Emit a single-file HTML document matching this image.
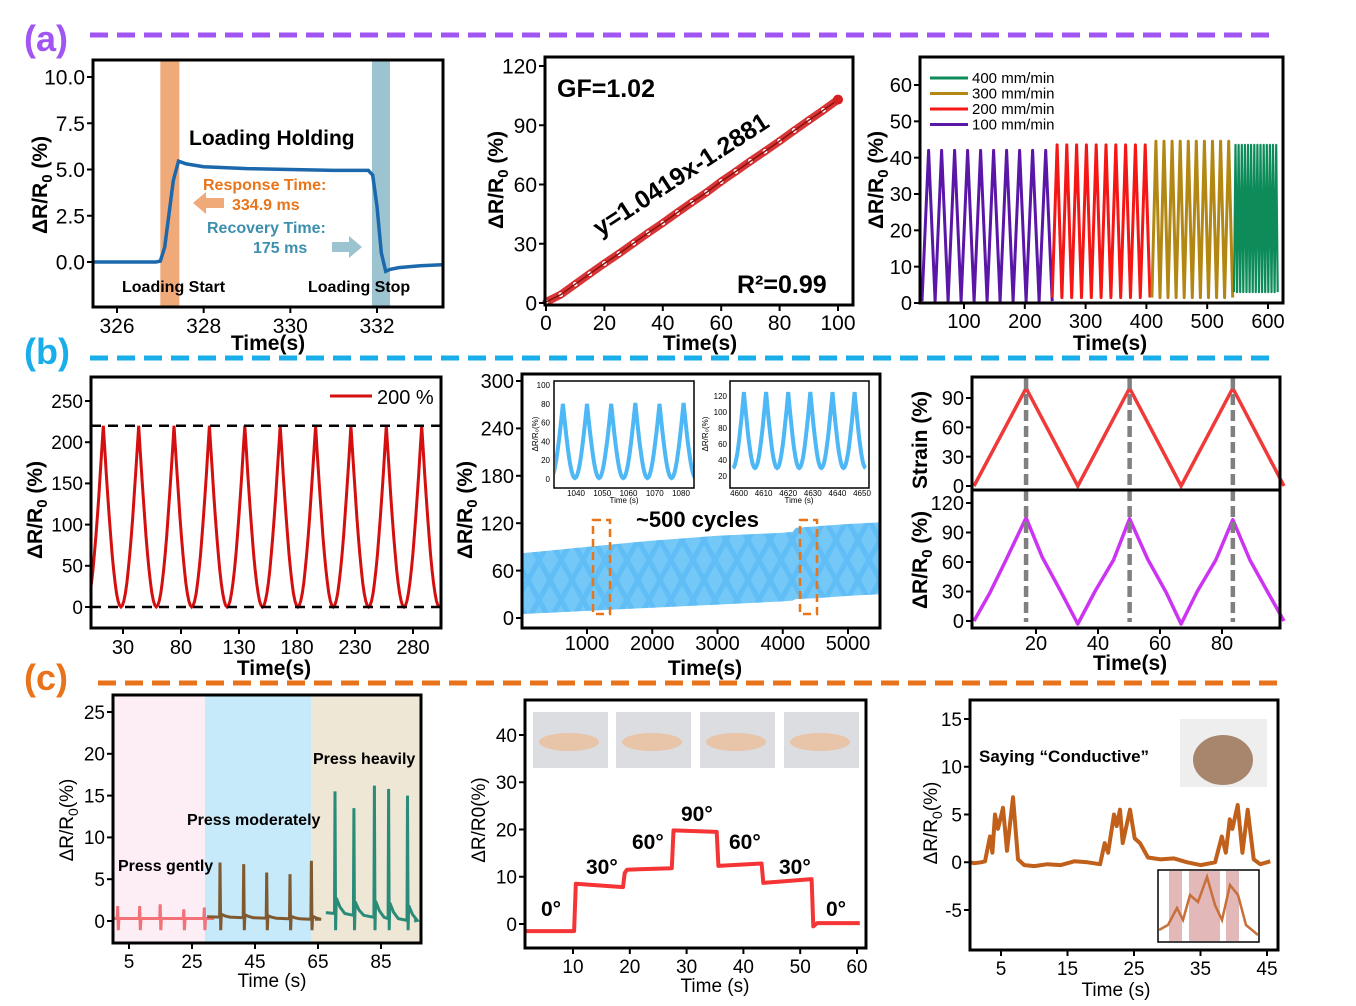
<!DOCTYPE html>
<html><head><meta charset="utf-8"><title>Sensor figure</title>
<style>
html,body{margin:0;padding:0;background:#fff;}
svg{display:block;font-family:"Liberation Sans",Arial,sans-serif;}
</style></head>
<body>
<svg id="fig" width="1356" height="1006" viewBox="0 0 1356 1006" xmlns="http://www.w3.org/2000/svg"></svg>
<script>
// ---------- data ----------
const a1Time=[325.45,326.9,327.0,327.1,327.2,327.3,327.42,327.6,328,329,330,331,331.8,331.9,332.0,332.1,332.2,332.3,332.5,333,333.5];
const a1Val=[0,0,0.05,0.8,2.6,4.4,5.45,5.3,5.15,5.05,5.0,4.95,4.95,4.7,3.0,0.5,-0.5,-0.4,-0.3,-0.2,-0.15];
const a2Time=[0,5,10,15,20,25,30,35,40,45,50,55,60,65,70,75,80,85,90,95,100];
const a2Val=[0.5,4.2,9.5,14.8,20,25,30.3,35.5,40.5,45.8,51,56,61.5,66.6,71.8,76.8,82,87.3,92.5,97.6,103];
const a3Start=[31,245,409,544];
const a3End=[245,406,542,616];
const a3Cycles=[10,10,10,14];
const a3Peak=[42,43.5,44.5,43.5];
const a3Min=[0.5,1.5,1.5,3];
const b1PeakTimes=[13,43.5,74,104.5,135,165.5,196,226.5,257,287.5];
const b1PeakVals=[220,220,220,220,220,220,220,220,220,220];
const b2Time=[0,500,1000,1500,2000,2500,3000,3500,4000,4150,4200,4500,5000,5490];
const b2Upper=[82,86,90,94,98,101,104,106,108,109,114,116,119,121];
const b2Lower=[5,7,9,11,13,15,17,19,21,22,24,25,28,30];
const b2In1Peak=[80,80,80,81,80,81];
const b2In2Peak=[125,125,125,125,125,125];
const b3StrainT=[0,16.8,33.5,50.2,66.8,83.5,100];
const b3StrainV=[0,100,0,100,0,100,0];
const b3RespT=[0,5,10,16.8,22,28,33.5,39,45,50.2,56,62,66.8,72,78,83.5,89,95,100];
const b3RespV=[0,28,60,105,65,30,-3,30,62,104,63,29,-3,30,62,103,62,28,0];
const c1GentleT=[1.5,8.5,15,22.5,29];
const c1GentleV=[1.8,1.8,2.0,1.4,1.6];
const c1ModT=[34,41.5,48.8,56.2,63];
const c1ModV=[7.0,6.8,5.8,5.6,7.2];
const c1HeavyT=[70.5,76.5,83,87.5,93.5];
const c1HeavyV=[15.5,13.5,16.2,15.8,15.0];
const c2Time=[1.5,10.2,10.5,18.8,19.1,19.5,27.4,27.7,35.3,35.6,43.2,43.5,52.0,52.3,53,60.5];
const c2Val=[-1.5,-1.5,8.5,7.8,10.8,11.5,11.8,19.8,19.5,12.3,12.8,8.7,9.5,-0.5,0.2,0.2];
const c3Time=[0.3,1,2,2.6,3.35,3.7,4.1,4.55,5.3,5.9,6.8,7.55,8.5,10,12,14,16,18,19.9,20.6,21.1,22.0,22.4,22.9,23.3,24.4,25.1,25.9,27.1,29,31,33,35,37.2,38.2,38.8,39.4,39.8,40.6,41.3,42.1,43,44,45.5];
const c3Val=[0,-0.1,0,0.1,2.7,1.0,5.0,3.5,5.7,1.2,6.8,0.3,-0.3,-0.4,-0.2,-0.3,0.1,0.0,-0.2,2.0,1.0,5.0,3.8,5.5,2.0,5.5,2.5,2.0,0.5,0.3,0.4,0.0,-0.3,0.0,2.7,1.0,4.5,3.5,6.0,1.0,5.5,0.3,-0.2,0.1];

// ---------- helpers ----------
const NS='http://www.w3.org/2000/svg';
const svg=document.getElementById('fig');
function mk(tag,attrs,name,parent){
  const e=document.createElementNS(NS,tag);
  for(const k in attrs) e.setAttribute(k,attrs[k]);
  
  
  (parent||svg).appendChild(e);
  return e;
}
function txt(x,y,s,attrs,name,parent){
  const t=mk('text',Object.assign({x:x,y:y},attrs||{}),name,parent);
  t.textContent=s; return t;
}
function lin(d0,d1,p0,p1){return v=>p0+(v-d0)*(p1-p0)/(d1-d0);}
function pathD(xs,ys,sx,sy){let d='';for(let i=0;i<xs.length;i++){d+=(i?'L':'M')+sx(xs[i]).toFixed(1)+','+sy(ys[i]).toFixed(1);}return d;}
function box(x0,y0,x1,y1,name,sw){mk('rect',{x:x0,y:y0,width:x1-x0,height:y1-y0,fill:'none',stroke:'#000','stroke-width':sw||3},name);}
function yTicks(vals,labels,sy,x0,fs,name){vals.forEach((v,i)=>{mk('line',{x1:x0-6,x2:x0,y1:sy(v),y2:sy(v),stroke:'#000','stroke-width':2},name+'-tick');txt(x0-8,sy(v)+fs*0.36,labels[i],{'font-size':fs,'text-anchor':'end'},name+'-label');});}
function xTicks(vals,labels,sx,y1,fs,name,dy){vals.forEach((v,i)=>{mk('line',{x1:sx(v),x2:sx(v),y1:y1,y2:y1+6,stroke:'#000','stroke-width':2},name+'-tick');txt(sx(v),y1+(dy||25),labels[i],{'font-size':fs,'text-anchor':'middle'},name+'-label');});}
function yTitle(x,y,parts,fs,name,bold){const t=mk('text',{x:0,y:0,transform:`translate(${x},${y}) rotate(-90)`,'text-anchor':'middle','font-size':fs,'font-weight':bold?'bold':'normal'},name);t.innerHTML=parts;}
function smoothWave(peakT,peakV,t0,t1,minV){
  const T=[],V=[];const n=peakT.length;
  for(let i=0;i<n;i++){
    const prev=i?peakT[i-1]:peakT[0]-(peakT[1]-peakT[0]);
    const half=(peakT[i]-prev)/2;
    for(let k=0;k<=12;k++){const u=k/12;T.push(prev+half+u*half);V.push(minV+(peakV[i]-minV)*(1-Math.cos(Math.PI/2*u)));}
    for(let k=1;k<=12;k++){const u=k/12;T.push(peakT[i]+u*half);V.push(minV+(peakV[i]-minV)*(1-Math.sin(Math.PI/2*u)));}
  }
  return [T,V];
}
function triWave(t0,t1,n,peak,minv){const T=[t0],V=[minv];const p=(t1-t0)/n;for(let i=0;i<n;i++){T.push(t0+p*(i+0.5));V.push(peak);T.push(t0+p*(i+1));V.push(minv);}return [T,V];}
function dashSep(y,color,x0,x1,name){mk('line',{x1:x0,x2:x1,y1:y,y2:y,stroke:color,'stroke-width':5,'stroke-dasharray':'18 9'},name);}

// ---------- section headers ----------
txt(24,51,'(a)',{'font-size':36,'font-weight':'bold',fill:'#a155f2'},'label-a');
dashSep(35,'#a155f2',90,1278,'separator-a');
txt(24,364,'(b)',{'font-size':36,'font-weight':'bold',fill:'#19aee9'},'label-b');
dashSep(358,'#19aee9',90,1278,'separator-b');
txt(24,690,'(c)',{'font-size':36,'font-weight':'bold',fill:'#e8731a'},'label-c');
dashSep(683,'#e8731a',98,1285,'separator-c');

// ---------- a1 ----------
(function(){
  const sx=lin(326,332,117,377), sy=lin(0,10,262,77);
  mk('rect',{x:sx(327.0),y:60,width:19,height:247,fill:'#f0aa7a'},'response-band');
  mk('rect',{x:372,y:60,width:18,height:247,fill:'#9cc4d0'},'recovery-band');
  mk('path',{d:pathD(a1Time,a1Val,sx,sy),fill:'none',stroke:'#1c68ad','stroke-width':3.5},'response-curve');
  box(93,60,443,307,'plot-frame-a1');
  yTicks([0,2.5,5,7.5,10],['0.0','2.5','5.0','7.5','10.0'],sy,93,21,'a1-y');
  xTicks([326,328,330,332],['326','328','330','332'],sx,307,21,'a1-x',26);
  txt(268,350,'Time(s)',{'font-size':21,'font-weight':'bold','text-anchor':'middle'},'x-axis-title-a1');
  yTitle(47,185,'ΔR/R<tspan font-size="15" dy="5">0</tspan><tspan dy="-5"> (%)</tspan>',21,'y-axis-title-a1',true);
  txt(189,145,'Loading Holding',{'font-size':21,'font-weight':'bold'},'loading-holding-label');
  txt(203,190,'Response Time:',{'font-size':16,'font-weight':'bold',fill:'#e8751a'},'response-time-label');
  txt(232,210,'334.9 ms',{'font-size':16,'font-weight':'bold',fill:'#e8751a'},'response-time-value');
  mk('polygon',{points:'193,203 206,192 206,198 224,198 224,208 206,208 206,214',fill:'#f0aa7a'},'response-arrow');
  txt(207,233,'Recovery Time:',{'font-size':16,'font-weight':'bold',fill:'#3d8fae'},'recovery-time-label');
  txt(253,253,'175 ms',{'font-size':16,'font-weight':'bold',fill:'#3d8fae'},'recovery-time-value');
  mk('polygon',{points:'362,247 349,236 349,242 332,242 332,252 349,252 349,258',fill:'#9cc4d0'},'recovery-arrow');
  txt(122,292,'Loading Start',{'font-size':16,'font-weight':'bold'},'loading-start-label');
  txt(308,292,'Loading Stop',{'font-size':16,'font-weight':'bold'},'loading-stop-label');
})();

// ---------- a2 ----------
(function(){
  const sx=lin(0,100,546,838), sy=lin(0,120,303,66);
  mk('path',{d:pathD(a2Time,a2Val,sx,sy),fill:'none',stroke:'#d42020','stroke-width':8,opacity:0.9},'gf-data-band');
  a2Time.forEach((t,i)=>{mk('circle',{cx:sx(t),cy:sy(a2Val[i]),r:3,fill:'#fff',stroke:'#d42020','stroke-width':1.2},'gf-point');});
  mk('path',{d:pathD(a2Time,a2Val,sx,sy),fill:'none',stroke:'#8a1010','stroke-width':1.5},'gf-fit-line');
  mk('circle',{cx:sx(100),cy:sy(a2Val[a2Val.length-1]),r:5,fill:'#d42020'},'gf-end-point');
  box(545,57,853,305,'plot-frame-a2');
  yTicks([0,30,60,90,120],['0','30','60','90','120'],sy,545,21,'a2-y');
  xTicks([0,20,40,60,80,100],['0','20','40','60','80','100'],sx,305,21,'a2-x',25);
  txt(700,350,'Time(s)',{'font-size':21,'font-weight':'bold','text-anchor':'middle'},'x-axis-title-a2');
  yTitle(503,180,'ΔR/R<tspan font-size="15" dy="5">0</tspan><tspan dy="-5"> (%)</tspan>',21,'y-axis-title-a2',true);
  txt(557,97,'GF=1.02',{'font-size':25,'font-weight':'bold'},'gf-label');
  txt(0,0,'y=1.0419x-1.2881',{'font-size':25,'font-weight':'bold',transform:'translate(600,237) rotate(-33)'},'fit-equation');
  txt(737,293,'R²=0.99',{'font-size':25,'font-weight':'bold'},'r-squared-label');
})();

// ---------- a3 ----------
(function(){
  const sx=lin(100,600,964,1268), sy=lin(0,60,303,85);
  const cols=['#5a16a6','#f51616','#b38714','#0d8c5a'];
  for(let s=0;s<4;s++){const w=triWave(a3Start[s],a3End[s],a3Cycles[s],a3Peak[s],a3Min[s]);mk('path',{d:pathD(w[0],w[1],sx,sy),fill:'none',stroke:cols[s],'stroke-width':s==3?2.2:3,'stroke-linejoin':'round'},'speed-series-'+s);}
  box(920,57,1283,303,'plot-frame-a3');
  yTicks([0,10,20,30,40,50,60],['0','10','20','30','40','50','60'],sy,920,20,'a3-y');
  xTicks([100,200,300,400,500,600],['100','200','300','400','500','600'],sx,303,20,'a3-x',25);
  txt(1110,350,'Time(s)',{'font-size':21,'font-weight':'bold','text-anchor':'middle'},'x-axis-title-a3');
  yTitle(883,180,'ΔR/R<tspan font-size="15" dy="5">0</tspan><tspan dy="-5"> (%)</tspan>',21,'y-axis-title-a3',true);
  const labs=['400 mm/min','300 mm/min','200 mm/min','100 mm/min'];const lc=[cols[3],cols[2],cols[1],cols[0]];
  labs.forEach((l,i)=>{const y=78+i*15.5;mk('line',{x1:930,x2:968,y1:y,y2:y,stroke:lc[i],'stroke-width':3},'legend-line');txt(972,y+5,l,{'font-size':15},'legend-entry');});
})();

// ---------- b1 ----------
(function(){
  const sx=lin(30,280,123,413), sy=lin(0,250,607,401);
  const cp=mk('clipPath',{id:'b1clip'},'b1-clip');mk('rect',{x:91,y:377,width:350,height:251},'b1-clip-rect',cp);
  const w=smoothWave(b1PeakTimes,b1PeakVals,0,0,0);
  mk('path',{d:pathD(w[0],w[1],sx,sy),fill:'none',stroke:'#d40f0f','stroke-width':3,'clip-path':'url(#b1clip)'},'strain-200-curve');
  mk('line',{x1:91,x2:441,y1:sy(220),y2:sy(220),stroke:'#000','stroke-width':2.5,'stroke-dasharray':'10 7'},'peak-reference-line');
  mk('line',{x1:91,x2:441,y1:sy(0),y2:sy(0),stroke:'#000','stroke-width':2.5,'stroke-dasharray':'10 7'},'zero-reference-line');
  box(91,377,441,628,'plot-frame-b1');
  yTicks([0,50,100,150,200,250],['0','50','100','150','200','250'],sy,91,19,'b1-y');
  xTicks([30,80,130,180,230,280],['30','80','130','180','230','280'],sx,628,20,'b1-x',26);
  txt(274,675,'Time(s)',{'font-size':21,'font-weight':'bold','text-anchor':'middle'},'x-axis-title-b1');
  yTitle(42,510,'ΔR/R<tspan font-size="15" dy="5">0</tspan><tspan dy="-5"> (%)</tspan>',21,'y-axis-title-b1',true);
  mk('line',{x1:330,x2:372,y1:396,y2:396,stroke:'#d40f0f','stroke-width':3},'legend-line-200');
  txt(377,404,'200 %',{'font-size':20},'legend-entry-200');
})();

// ---------- b2 ----------
(function(){
  const sx=lin(1000,5000,587,848), sy=lin(0,300,618,381);
  let d=pathD(b2Time,b2Upper,sx,sy);for(let i=b2Time.length-1;i>=0;i--)d+='L'+sx(b2Time[i]).toFixed(1)+','+sy(b2Lower[i]).toFixed(1);d+='Z';
  mk('path',{d:d,fill:'#74c8f8'},'cycling-band');
  const pat=mk('pattern',{id:'diam',width:22,height:40,patternUnits:'userSpaceOnUse',y:580},'diamond-pattern');
  mk('path',{d:'M0,0L11,20L0,40M22,0L11,20L22,40',stroke:'#4fb4f2','stroke-width':5,fill:'none'},'diamond-stroke',pat);
  mk('path',{d:d,fill:'url(#diam)',opacity:0.55},'cycling-band-texture');
  mk('rect',{x:593,y:520,width:17,height:94,fill:'none',stroke:'#e8751a','stroke-width':2.5,'stroke-dasharray':'8 5'},'zoom-box-early');
  mk('rect',{x:800,y:520,width:17,height:94,fill:'none',stroke:'#e8751a','stroke-width':2.5,'stroke-dasharray':'8 5'},'zoom-box-late');
  txt(636,527,'~500 cycles',{'font-size':22,'font-weight':'bold'},'cycles-label');
  const ix=lin(1040,1080,576,681), iy=lin(0,100,479,385);
  const pt1=b2In1Peak.map((_,i)=>1035+i*9.2);
  let w=smoothWave(pt1,b2In1Peak,0,0,1);
  const c1=mk('clipPath',{id:'in1'},'inset1-clip');mk('rect',{x:555,y:381,width:139,height:106},'inset1-clip-rect',c1);
  mk('path',{d:pathD(w[0],w[1],ix,iy),fill:'none',stroke:'#4db8f5','stroke-width':4,'clip-path':'url(#in1)'},'inset1-curve');
  box(554,381,694,488,'inset1-frame',1.5);
  [0,20,40,60,80,100].forEach(v=>{txt(550,iy(v)+3,String(v),{'font-size':8,'text-anchor':'end'},'inset1-y-label');});
  [1040,1050,1060,1070,1080].forEach(v=>{txt(ix(v),496,String(v),{'font-size':8,'text-anchor':'middle'},'inset1-x-label');});
  txt(624,503,'Time (s)',{'font-size':8,'text-anchor':'middle'},'inset1-x-title');
  txt(0,0,'ΔR/R₀(%)',{'font-size':8,'text-anchor':'middle',transform:'translate(538,434) rotate(-90)'},'inset1-y-title');
  const jx=lin(4600,4650,739,862), jy=lin(20,120,476,396);
  const pt2=b2In2Peak.map((_,i)=>4602+i*9);
  w=smoothWave(pt2,b2In2Peak,0,0,30);
  const c2=mk('clipPath',{id:'in2'},'inset2-clip');mk('rect',{x:730,y:381,width:139,height:106},'inset2-clip-rect',c2);
  mk('path',{d:pathD(w[0],w[1],jx,jy),fill:'none',stroke:'#4db8f5','stroke-width':4,'clip-path':'url(#in2)'},'inset2-curve');
  box(730,381,869,488,'inset2-frame',1.5);
  [20,40,60,80,100,120].forEach(v=>{txt(727,jy(v)+3,String(v),{'font-size':8,'text-anchor':'end'},'inset2-y-label');});
  [4600,4610,4620,4630,4640,4650].forEach(v=>{txt(jx(v),496,String(v),{'font-size':8,'text-anchor':'middle'},'inset2-x-label');});
  txt(799,503,'Time (s)',{'font-size':8,'text-anchor':'middle'},'inset2-x-title');
  txt(0,0,'ΔR/R₀(%)',{'font-size':8,'text-anchor':'middle',transform:'translate(708,434) rotate(-90)'},'inset2-y-title');
  box(522,374,880,628,'plot-frame-b2');
  yTicks([0,60,120,180,240,300],['0','60','120','180','240','300'],sy,522,20,'b2-y');
  xTicks([1000,2000,3000,4000,5000],['1000','2000','3000','4000','5000'],sx,628,20,'b2-x',22);
  txt(705,675,'Time(s)',{'font-size':21,'font-weight':'bold','text-anchor':'middle'},'x-axis-title-b2');
  yTitle(472,510,'ΔR/R<tspan font-size="15" dy="5">0</tspan><tspan dy="-5"> (%)</tspan>',21,'y-axis-title-b2',true);
})();

// ---------- b3 ----------
(function(){
  const sx=lin(20,80,1036,1222), syT=lin(0,90,486,398), syB=lin(0,120,621,503);
  mk('path',{d:pathD(b3StrainT,b3StrainV,sx,syT),fill:'none',stroke:'#f03a3a','stroke-width':3.5},'strain-curve');
  mk('path',{d:pathD(b3RespT,b3RespV,sx,syB),fill:'none',stroke:'#cc33f2','stroke-width':3.5,'stroke-linejoin':'round'},'resistance-curve');
  [16.8,50.2,83.5].forEach(t=>{mk('line',{x1:sx(t),x2:sx(t),y1:378,y2:622,stroke:'#808080','stroke-width':4.5,'stroke-dasharray':'11 5'},'peak-marker-line');});
  box(972,377,1280,490,'plot-frame-strain');
  box(972,490,1280,628,'plot-frame-resistance');
  yTicks([0,30,60,90],['0','30','60','90'],syT,972,20,'b3-top-y');
  yTicks([0,30,60,90,120],['0','30','60','90','120'],syB,972,20,'b3-bot-y');
  xTicks([20,40,60,80],['20','40','60','80'],sx,628,20,'b3-x',22);
  txt(1130,670,'Time(s)',{'font-size':21,'font-weight':'bold','text-anchor':'middle'},'x-axis-title-b3');
  yTitle(927,440,'Strain (%)',21,'y-axis-title-strain',true);
  yTitle(927,560,'ΔR/R<tspan font-size="15" dy="5">0</tspan><tspan dy="-5"> (%)</tspan>',21,'y-axis-title-resistance',true);
})();

// ---------- c1 ----------
(function(){
  const sx=lin(5,85,129,381), sy=lin(0,25,921,712);
  mk('rect',{x:113,y:695,width:92,height:248,fill:'#fdeef6'},'gentle-region');
  mk('rect',{x:205,y:695,width:106,height:248,fill:'#c6eaf9'},'moderate-region');
  mk('rect',{x:311,y:695,width:110,height:248,fill:'#efe7d6'},'heavy-region');
  function spikes(T,V,t0,t1,base0,base1,decay){const X=[t0],Y=[base0];T.forEach((t,i)=>{const b=base0+(base1-base0)*(t-t0)/(t1-t0);X.push(t-0.25);Y.push(b);X.push(t-0.1);Y.push(V[i]);X.push(t+0.1);Y.push(-1.1);X.push(t+0.3);Y.push(b+decay*V[i]);X.push(t+1.5);Y.push(b+decay*V[i]*0.4);X.push(t+3);Y.push(b);});X.push(t1);Y.push(base1);return [X,Y];}
  let s=spikes(c1GentleT,c1GentleV,0,29.8,0.3,0.3,0);
  mk('path',{d:pathD(s[0],s[1],sx,sy),fill:'none',stroke:'#f27278','stroke-width':3},'gentle-series');
  s=spikes(c1ModT,c1ModV,29.8,64,0.5,0.2,0.05);
  mk('path',{d:pathD(s[0],s[1],sx,sy),fill:'none',stroke:'#7f5a30','stroke-width':3},'moderate-series');
  s=spikes(c1HeavyT,c1HeavyV,67.5,95.5,1.0,0.0,0.12);
  mk('path',{d:pathD(s[0],s[1],sx,sy),fill:'none',stroke:'#2a8c78','stroke-width':3},'heavy-series');
  box(113,695,421,943,'plot-frame-c1');
  yTicks([0,5,10,15,20,25],['0','5','10','15','20','25'],sy,113,19,'c1-y');
  xTicks([5,25,45,65,85],['5','25','45','65','85'],sx,943,19,'c1-x',25);
  txt(272,987,'Time (s)',{'font-size':19,'text-anchor':'middle'},'x-axis-title-c1');
  yTitle(73,820,'ΔR/R<tspan font-size="14" dy="5">0</tspan><tspan dy="-5">(%)</tspan>',19,'y-axis-title-c1',false);
  txt(118,871,'Press gently',{'font-size':16,'font-weight':'bold'},'press-gently-label');
  txt(187,825,'Press moderately',{'font-size':16,'font-weight':'bold'},'press-moderately-label');
  txt(313,764,'Press heavily',{'font-size':16,'font-weight':'bold'},'press-heavily-label');
})();

// ---------- c2 ----------
(function(){
  const sx=lin(10,60,573,857), sy=lin(0,40,924,735);
  [533,616,700,784].forEach((x,i)=>{mk('rect',{x:x,y:712,width:75,height:56,fill:'#dcdde0'},'finger-photo-'+i);mk('ellipse',{cx:x+36,cy:742,rx:30,ry:9,fill:'#e8c4a8'},'finger-shape-'+i);});
  mk('path',{d:pathD(c2Time,c2Val,sx,sy),fill:'none',stroke:'#f53535','stroke-width':4,'stroke-linejoin':'round'},'bending-series');
  box(525,700,866,948,'plot-frame-c2');
  yTicks([0,10,20,30,40],['0','10','20','30','40'],sy,525,19,'c2-y');
  xTicks([10,20,30,40,50,60],['10','20','30','40','50','60'],sx,948,19,'c2-x',25);
  txt(715,992,'Time (s)',{'font-size':19,'text-anchor':'middle'},'x-axis-title-c2');
  yTitle(485,820,'ΔR/R0(%)',19,'y-axis-title-c2',false);
  const L=[['0°',541,916],['30°',586,874],['60°',632,849],['90°',681,821],['60°',729,849],['30°',779,874],['0°',826,916]];
  L.forEach(l=>txt(l[1],l[2],l[0],{'font-size':21,'font-weight':'bold'},'angle-label'));
})();

// ---------- c3 ----------
(function(){
  const sx=lin(5,45,1001,1267), sy=lin(-5,15,910,719);
  mk('rect',{x:1180,y:719,width:87,height:68,fill:'#eeeeee'},'neck-photo');
  mk('ellipse',{cx:1223,cy:760,rx:30,ry:25,fill:'#a8866e'},'neck-shape');
  mk('path',{d:pathD(c3Time,c3Val,sx,sy),fill:'none',stroke:'#c0601a','stroke-width':4,'stroke-linejoin':'round'},'speech-series');
  mk('rect',{x:1158,y:870,width:101,height:72,fill:'#fff',stroke:'#000','stroke-width':1.5},'speech-inset-frame');
  [[1169,13],[1189,31],[1226,13]].forEach(r=>mk('rect',{x:r[0],y:871,width:r[1],height:70,fill:'#e2b8b8'},'syllable-band'));
  mk('path',{d:'M1159,930 L1168,925 L1177,908 L1183,920 L1190,895 L1198,902 L1207,877 L1215,905 L1222,920 L1230,885 L1238,895 L1246,925 L1258,935',fill:'none',stroke:'#c8703a','stroke-width':2.5},'inset-speech-curve');
  box(970,700,1278,950,'plot-frame-c3');
  yTicks([-5,0,5,10,15],['-5','0','5','10','15'],sy,970,19,'c3-y');
  xTicks([5,15,25,35,45],['5','15','25','35','45'],sx,950,19,'c3-x',25);
  txt(1116,996,'Time (s)',{'font-size':19,'text-anchor':'middle'},'x-axis-title-c3');
  yTitle(937,823,'ΔR/R<tspan font-size="14" dy="5">0</tspan><tspan dy="-5">(%)</tspan>',19,'y-axis-title-c3',false);
  txt(979,762,'Saying “Conductive”',{'font-size':17,'font-weight':'bold'},'saying-label');
})();
</script>
</body></html>
